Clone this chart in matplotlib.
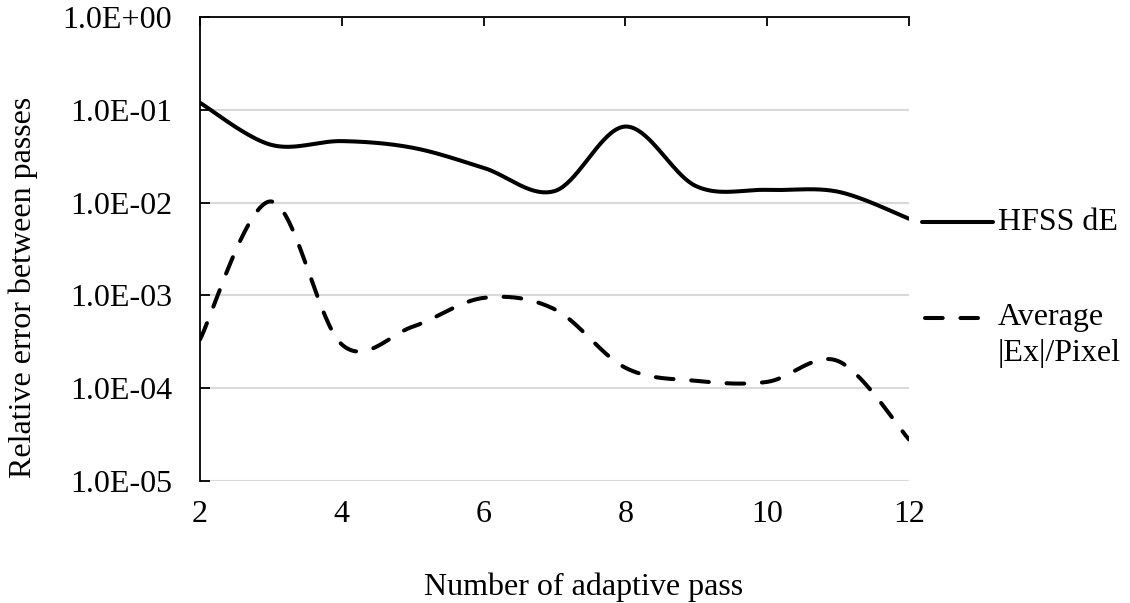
import numpy as np
import matplotlib.pyplot as plt
from matplotlib.lines import Line2D
from matplotlib.ticker import FixedLocator, FuncFormatter, NullLocator

plt.rcParams['font.family'] = ['Liberation Serif', 'DejaVu Serif']

passes = [2, 3, 4, 5, 6, 7, 8, 9, 10, 11, 12]
hfss_de = [0.119, 0.042, 0.046, 0.039, 0.0237, 0.0133, 0.066, 0.015, 0.0137, 0.0131, 0.0067]
avg_ex = [3.35e-4, 1.03e-2, 2.96e-4, 4.6e-4, 9.4e-4, 7.1e-4, 1.66e-4, 1.2e-4, 1.17e-4, 1.96e-4, 2.8e-5]


def smooth(x, y, n=40):
    # excel style smoothed line (catmull-rom in log space)
    x = np.asarray(x, float)
    ly = np.log10(np.asarray(y, float))
    px = np.concatenate([[x[0]], x, [x[-1]]])
    py = np.concatenate([[ly[0]], ly, [ly[-1]]])
    xs, ys = [], []
    t = np.linspace(0, 1, n)
    for i in range(1, len(px) - 2):
        p0, p1, p2, p3 = px[i - 1], px[i], px[i + 1], px[i + 2]
        q0, q1, q2, q3 = py[i - 1], py[i], py[i + 1], py[i + 2]
        c1x, c1y = p1 + (p2 - p0) / 6, q1 + (q2 - q0) / 6
        c2x, c2y = p2 - (p3 - p1) / 6, q2 - (q3 - q1) / 6
        bx = (1 - t) ** 3 * p1 + 3 * (1 - t) ** 2 * t * c1x + 3 * (1 - t) * t ** 2 * c2x + t ** 3 * p2
        by = (1 - t) ** 3 * q1 + 3 * (1 - t) ** 2 * t * c1y + 3 * (1 - t) * t ** 2 * c2y + t ** 3 * q2
        xs.append(bx)
        ys.append(by)
    return np.concatenate(xs), 10 ** np.concatenate(ys)


fig = plt.figure(figsize=(11.3, 6.03), dpi=100)
ax = fig.add_axes([200 / 1130, 1 - 481 / 603, 709 / 1130, 464 / 603])

sx, sy = smooth(passes, hfss_de)
ax.plot(sx, sy, color='black', lw=2.9, solid_capstyle='round', zorder=3)
sx, sy = smooth(passes, avg_ex)
ax.plot(sx, sy, color='black', lw=2.9, dashes=(4.4, 4.4), dash_capstyle='round', zorder=3)

ax.set_yscale('log')
ax.set_ylim(1e-5, 1)
ax.set_xlim(2, 12)
ax.yaxis.set_major_locator(FixedLocator([1e-5, 1e-4, 1e-3, 1e-2, 1e-1, 1]))
ax.yaxis.set_minor_locator(NullLocator())
ax.yaxis.set_major_formatter(FuncFormatter(lambda v, p: f"{v:.1E}"))
ax.set_xticks([2, 4, 6, 8, 10, 12])
ax.grid(axis='y', color='#d9d9d9', lw=1.5)
ax.set_axisbelow(True)

for s in ['bottom', 'right']:
    ax.spines[s].set_visible(False)
ax.spines['top'].set_linewidth(1.3)
ax.spines['left'].set_linewidth(1.3)

ax.tick_params(axis='y', direction='in', length=7, width=1.3, labelsize=23, pad=20)
ax.tick_params(axis='x', direction='in', length=6.3, width=1.3, top=True, bottom=False,
               labeltop=False, labelbottom=True, labelsize=23, pad=14)

ax.set_xlabel('Number of adaptive pass', fontsize=23)
ax.set_ylabel('Relative error between passes', fontsize=23)
ax.xaxis.set_label_coords(0.541, -0.198)
ax.yaxis.set_label_coords(-0.228, 0.417)

# legend drawn to the right
fig.add_artist(Line2D([922 / 1130, 993 / 1130], [1 - 222 / 603] * 2, color='black', lw=2.9,
                      solid_capstyle='round', transform=fig.transFigure))
fig.add_artist(Line2D([925 / 1130, 978 / 1130], [1 - 318 / 603] * 2, color='black', lw=2.9,
                      dashes=(4.4, 4.4), dash_capstyle='round', transform=fig.transFigure))
fig.text(998 / 1130, 1 - 222 / 603, 'HFSS dE', fontsize=23, va='center', ha='left')
fig.text(998 / 1130, 1 - 318 / 603, 'Average', fontsize=23, va='center', ha='left')
fig.text(998 / 1130, 1 - 353 / 603, '|Ex|/Pixel', fontsize=23, va='center', ha='left')

fig.savefig('out.png', dpi=100)
